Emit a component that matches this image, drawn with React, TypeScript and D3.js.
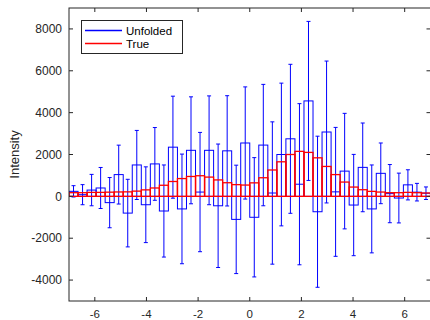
import React from 'react';
import * as d3 from 'd3';

// bin centres (width 0.35) from -7 to 7
const binCenters = [
  -6.825, -6.475, -6.125, -5.775, -5.425, -5.075, -4.725, -4.375, -4.025, -3.675,
  -3.325, -2.975, -2.625, -2.275, -1.925, -1.575, -1.225, -0.875, -0.525, -0.175,
  0.175, 0.525, 0.875, 1.225, 1.575, 1.925, 2.275, 2.625, 2.975, 3.325,
  3.675, 4.025, 4.375, 4.725, 5.075, 5.425, 5.775, 6.125, 6.475, 6.825,
];
const binWidth = 0.35;

const unfolded = [
  240, 80, 300, 400, -300, 1040, -800, 1500, -400, 1550,
  -700, 2350, -600, 2200, 205, 2200, -450, 2175, -1100, 2550,
  -1000, 2450, 160, 2000, 2750, 580, 4560, -735, 3075, 215,
  1206, -415, 1385, -600, 1100, 130, -80, 550, 200, 150,
];
const unfoldedErr = [
  270, 480, 750, 980, 1200, 1407, 1615, 1650, 1810, 1738,
  2200, 2437, 2620, 2555, 2850, 2600, 2950, 2635, 2590, 2680,
  2850, 2900, 3400, 3410, 3560, 3850, 3800, 3610, 3390, 3080,
  2760, 2420, 2120, 2100, 1450, 1390, 1190, 720, 420, 300,
];
const trueVals = [
  175, 175, 190, 190, 200, 210, 215, 250, 310, 400,
  530, 710, 850, 950, 985, 920, 785, 651, 560, 540,
  645, 889, 1260, 1651, 2000, 2150, 2100, 1841, 1429, 1040,
  683, 444, 317, 238, 206, 175, 175, 190, 175, 160,
];

const xTicks = [-6, -4, -2, 0, 2, 4, 6];
const yTicks = [-4000, -2000, 0, 2000, 4000, 6000, 8000];

const W = 430;
const H = 320;
const left = 69;
const right = 430.5;
const top = 8;
const bottom = 301;
const axisColor = '#262626';
const font = 'Liberation Sans, Arial, Helvetica, sans-serif';

export default function App() {
  const x = d3.scaleLinear().domain([-7, 7]).range([left, right]);
  const y = d3.scaleLinear().domain([-5000, 9000]).range([bottom, top]);
  const tick = 4;

  const barRect = (c: number, v: number) => {
    const x0 = x(c - binWidth / 2);
    const x1 = x(c + binWidth / 2);
    const y0 = y(Math.max(0, v));
    const y1 = y(Math.min(0, v));
    return { x: x0, y: y0, width: x1 - x0, height: y1 - y0 };
  };

  return (
    <svg width={W} height={H} style={{ position: 'absolute', left: 0, top: 0 }}>
      <rect x={0} y={0} width={W} height={H} fill="#fff" />
      <defs>
        <clipPath id="plot">
          <rect x={left} y={top} width={right - left} height={bottom - top} />
        </clipPath>
      </defs>

      <g clipPath="url(#plot)">
        {/* unfolded bars */}
        {binCenters.map((c, i) => {
          const r = barRect(c, unfolded[i]);
          return <rect key={'b' + i} {...r} fill="none" stroke="#0000ff" strokeWidth={1} />;
        })}
        {/* unfolded error bars */}
        {binCenters.map((c, i) => {
          const cx = x(c);
          const yt = y(unfolded[i] + unfoldedErr[i]);
          const yb = y(unfolded[i] - unfoldedErr[i]);
          return (
            <g key={'e' + i} stroke="#0000ff" strokeWidth={1}>
              <line x1={cx} x2={cx} y1={yt} y2={yb} />
              <line x1={cx - 2} x2={cx + 2} y1={yt} y2={yt} />
              <line x1={cx - 2} x2={cx + 2} y1={yb} y2={yb} />
            </g>
          );
        })}
        {/* true bars */}
        {binCenters.map((c, i) => {
          const r = barRect(c, trueVals[i]);
          return <rect key={'t' + i} {...r} fill="none" stroke="#ff0000" strokeWidth={1.3} />;
        })}
      </g>

      {/* axes box */}
      <rect x={left} y={top} width={right - left} height={bottom - top} fill="none" stroke={axisColor} strokeWidth={1} />
      {xTicks.map((t) => (
        <g key={'xt' + t} stroke={axisColor}>
          <line x1={x(t)} x2={x(t)} y1={bottom} y2={bottom - tick} />
          <line x1={x(t)} x2={x(t)} y1={top} y2={top + tick} />
        </g>
      ))}
      {yTicks.map((t) => (
        <g key={'yt' + t} stroke={axisColor}>
          <line x1={left} x2={left + tick} y1={y(t)} y2={y(t)} />
          <line x1={right} x2={right - tick} y1={y(t)} y2={y(t)} />
        </g>
      ))}
      {xTicks.map((t) => (
        <text key={'xl' + t} x={x(t)} y={bottom + 16.5} textAnchor="middle" fontSize={11.5} fontFamily={font} fill="#262626">
          {t}
        </text>
      ))}
      {yTicks.map((t) => (
        <text key={'yl' + t} x={left - 7} y={y(t)} dy="0.35em" textAnchor="end" fontSize={12} fontFamily={font} fill="#262626">
          {t}
        </text>
      ))}
      <text
        transform={`translate(19,${(top + bottom) / 2}) rotate(-90)`}
        textAnchor="middle"
        fontSize={13}
        fontFamily={font}
        fill="#262626"
      >
        Intensity
      </text>

      {/* legend */}
      <rect x={81.5} y={20.5} width={101} height={33} fill="#fff" stroke={axisColor} strokeWidth={1} />
      <line x1={85} x2={122} y1={30.5} y2={30.5} stroke="#0000ff" strokeWidth={1.3} />
      <line x1={85} x2={122} y1={43.5} y2={43.5} stroke="#ff0000" strokeWidth={1.3} />
      <text x={126} y={30.5} dy="0.35em" fontSize={11.5} fontFamily={font} fill="#000">Unfolded</text>
      <text x={126} y={43.5} dy="0.35em" fontSize={11.5} fontFamily={font} fill="#000">True</text>
    </svg>
  );
}
